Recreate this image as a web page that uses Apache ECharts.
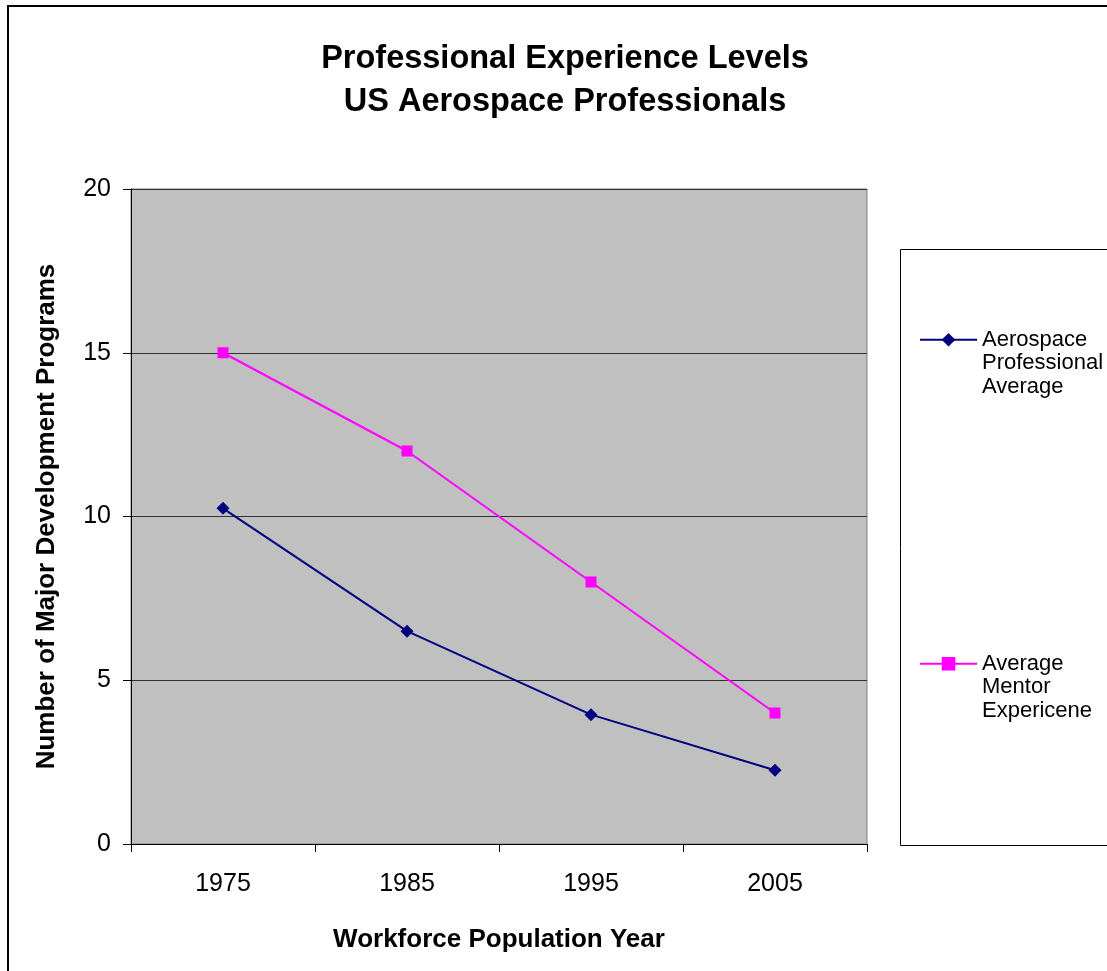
<!DOCTYPE html>
<html>
<head>
<meta charset="utf-8">
<script src="https://cdn.jsdelivr.net/npm/echarts@6/dist/echarts.min.js"></script>
<style>html,body{margin:0;padding:0;background:#fff}#c{width:1107px;height:971px}</style>
</head>
<body>
<div id="c"></div>
<script>
var titleLines = ['Professional Experience Levels', 'US Aerospace Professionals'];
var years = ['1975', '1985', '1995', '2005'];
var seriesNames = ['Aerospace Professional Average', 'Average Mentor Expericene'];
var legendLabels = ['Aerospace\nProfessional\nAverage', 'Average\nMentor\nExpericene'];
var aerospaceAvg = [10.25, 6.5, 3.95, 2.25];
var mentorExp = [15, 12, 8, 4];
var yTicks = [0, 5, 10, 15, 20];
var xAxisTitle = 'Workforce Population Year';
var yAxisTitle = 'Number of Major Development Programs';

var FONT = '"Liberation Sans", Arial, sans-serif';
var chart = echarts.init(document.getElementById('c'), null, {renderer: 'canvas'});
chart.setOption({
  backgroundColor: '#ffffff',
  animation: false,
  textStyle: {fontFamily: FONT, color: '#000'},
  graphic: [
    {type: 'rect', z: -10, shape: {x: 8, y: 6, width: 1200, height: 1100},
     style: {fill: 'none', stroke: '#000', lineWidth: 2}},
    {type: 'rect', z: -5, shape: {x: 900.5, y: 249.5, width: 300, height: 596},
     style: {fill: '#fff', stroke: '#000', lineWidth: 1}},
    {type: 'text', x: 565, y: 59, style: {text: titleLines[0], fontFamily: FONT, fontSize: 32.5, fontWeight: 'bold', fill: '#000', align: 'center', verticalAlign: 'middle'}},
    {type: 'text', x: 565, y: 102, style: {text: titleLines[1], fontFamily: FONT, fontSize: 32.5, fontWeight: 'bold', fill: '#000', align: 'center', verticalAlign: 'middle'}}
  ],
  legend: {
    orient: 'vertical',
    left: 914,
    top: 276,
    itemWidth: 57,
    itemHeight: 17,
    itemGap: 206.5,
    data: seriesNames,
    formatter: function (n) { return '\n\n' + legendLabels[seriesNames.indexOf(n)]; },
    textStyle: {fontFamily: FONT, fontSize: 22, color: '#000', lineHeight: 23.5}
  },
  grid: {
    left: 131, right: 240, top: 189, bottom: 127,
    show: true, backgroundColor: '#c0c0c0', borderColor: '#808080', borderWidth: 1,
    containLabel: false
  },
  xAxis: {
    type: 'category',
    data: years,
    boundaryGap: true,
    name: xAxisTitle,
    nameLocation: 'middle',
    nameGap: 83,
    nameTextStyle: {fontFamily: FONT, fontSize: 26, fontWeight: 'bold', color: '#000'},
    axisLine: {lineStyle: {color: '#000', width: 1}},
    axisTick: {show: true, length: 8, inside: false, alignWithLabel: false, lineStyle: {color: '#000'}},
    axisLabel: {fontFamily: FONT, fontSize: 25, color: '#000', margin: 28},
    splitLine: {show: false}
  },
  yAxis: {
    type: 'value',
    min: yTicks[0],
    max: yTicks[yTicks.length - 1],
    interval: 5,
    name: yAxisTitle,
    nameLocation: 'middle',
    nameGap: 71,
    nameTextStyle: {fontFamily: FONT, fontSize: 26, fontWeight: 'bold', color: '#000'},
    axisLine: {show: true, lineStyle: {color: '#000', width: 1}},
    axisTick: {show: true, length: 8, inside: false, lineStyle: {color: '#000'}},
    axisLabel: {fontFamily: FONT, fontSize: 25, color: '#000', margin: 20},
    splitLine: {show: true, lineStyle: {color: '#303030', width: 1}}
  },
  series: [
    {
      name: seriesNames[0], type: 'line', data: aerospaceAvg,
      symbol: 'diamond', symbolSize: 13,
      lineStyle: {color: '#000080', width: 2},
      itemStyle: {color: '#000080'}
    },
    {
      name: seriesNames[1], type: 'line', data: mentorExp,
      symbol: 'rect', symbolSize: 11,
      lineStyle: {color: '#ff00ff', width: 2},
      itemStyle: {color: '#ff00ff'}
    }
  ]
});
</script>
</body>
</html>
